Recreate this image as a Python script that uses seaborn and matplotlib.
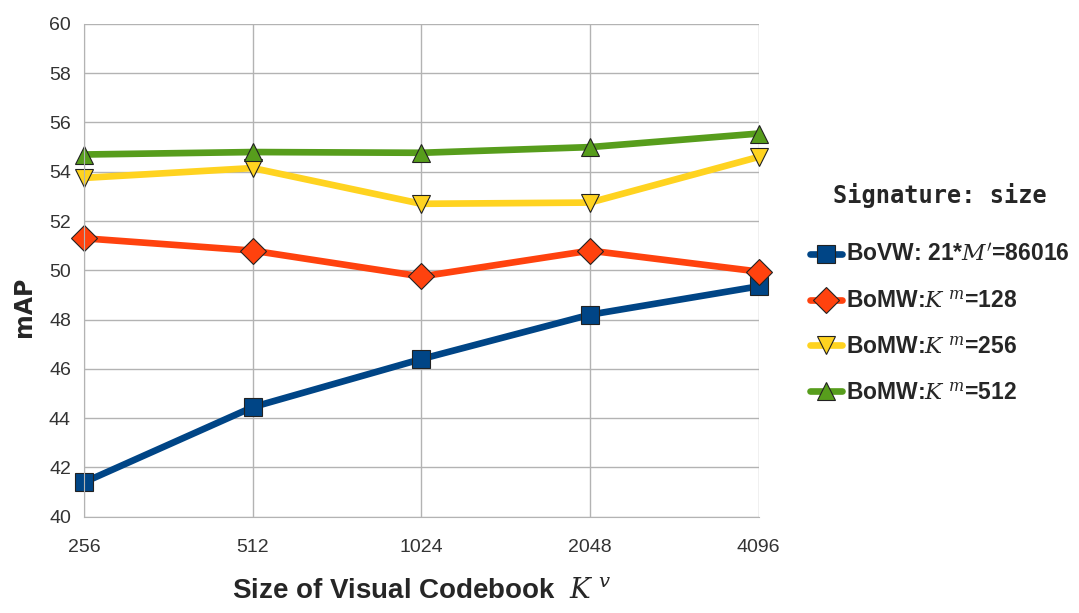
import numpy as np
import pandas as pd
import seaborn as sns
import matplotlib.pyplot as plt
from matplotlib.lines import Line2D
import warnings

warnings.filterwarnings("ignore")

codebook = ["256", "512", "1024", "2048", "4096"]
bovw = [41.4, 44.45, 46.4, 48.2, 49.35]
bomw_128 = [51.3, 50.8, 49.75, 50.8, 49.95]
bomw_256 = [53.75, 54.15, 52.7, 52.75, 54.6]
bomw_512 = [54.7, 54.8, 54.77, 55.0, 55.55]

labels = [
    "BoVW: 21*$M'$=86016",
    "BoMW:$K^{\\ m}$=128",
    "BoMW:$K^{\\ m}$=256",
    "BoMW:$K^{\\ m}$=512",
]
colors = ["#004586", "#ff420e", "#ffd320", "#579d1c"]
markers = ["s", "D", "v", "^"]

rows = []
for lab, vals in zip(labels, [bovw, bomw_128, bomw_256, bomw_512]):
    for c, v in zip(codebook, vals):
        rows.append({"codebook": c, "mAP": v, "series": lab})
df = pd.DataFrame(rows)

sns.set_style("white")
plt.rcParams["mathtext.fontset"] = "dejavuserif"
narrow = ["Liberation Sans Narrow", "Liberation Sans", "DejaVu Sans"]

fig = plt.figure(figsize=(10.79, 6.13), dpi=100)
ax = fig.add_axes([0.078, 0.157, 0.625, 0.804])

sns.lineplot(
    data=df, x="codebook", y="mAP", hue="series", style="series",
    palette=dict(zip(labels, colors)), markers=dict(zip(labels, markers)),
    dashes=False, linewidth=4.8, markersize=13, markeredgecolor="#222222",
    markeredgewidth=0.8, sort=False, ax=ax, legend=False, clip_on=False,
)

ax.set_xlim(0, len(codebook) - 1)
ax.set_ylim(40, 60)
ax.set_yticks(np.arange(40, 61, 2))
ax.grid(True, color="#b3b3b3", linewidth=1)
ax.set_axisbelow(True)
for s in ["top", "right"]:
    ax.spines[s].set_visible(False)
for s in ["left", "bottom"]:
    ax.spines[s].set_color("#b3b3b3")
ax.tick_params(axis="both", length=6, color="#b3b3b3", labelsize=14, labelcolor="#333333")
for t in ax.get_xticklabels() + ax.get_yticklabels():
    t.set_family(narrow)
ax.tick_params(axis="x", pad=10)

ax.set_xlabel("Size of Visual Codebook  $K^{\\ v}$", fontsize=20, family=narrow,
              fontweight="bold", labelpad=16)
ax.set_ylabel("mAP", fontsize=17, fontweight="bold")
ax.yaxis.set_label_coords(-0.072, 0.426)

handles = [
    Line2D([], [], color=c, marker=m, linewidth=4.8, markersize=13,
           markeredgecolor="#222222", markeredgewidth=0.8)
    for c, m in zip(colors, markers)
]
leg = ax.legend(
    handles, labels, loc="upper left", bbox_to_anchor=(1.045, 0.72),
    frameon=False, title="Signature: size", handlelength=1.4,
    handletextpad=0.2, labelspacing=1.0,
    prop={"family": narrow, "weight": "bold", "size": 16.5},
)
leg.get_title().set_fontfamily("DejaVu Sans Mono")
leg.get_title().set_fontweight("bold")
leg.get_title().set_fontsize(17)
leg._legend_box.sep = 26

plt.savefig("out.png", dpi=100)
plt.close()
